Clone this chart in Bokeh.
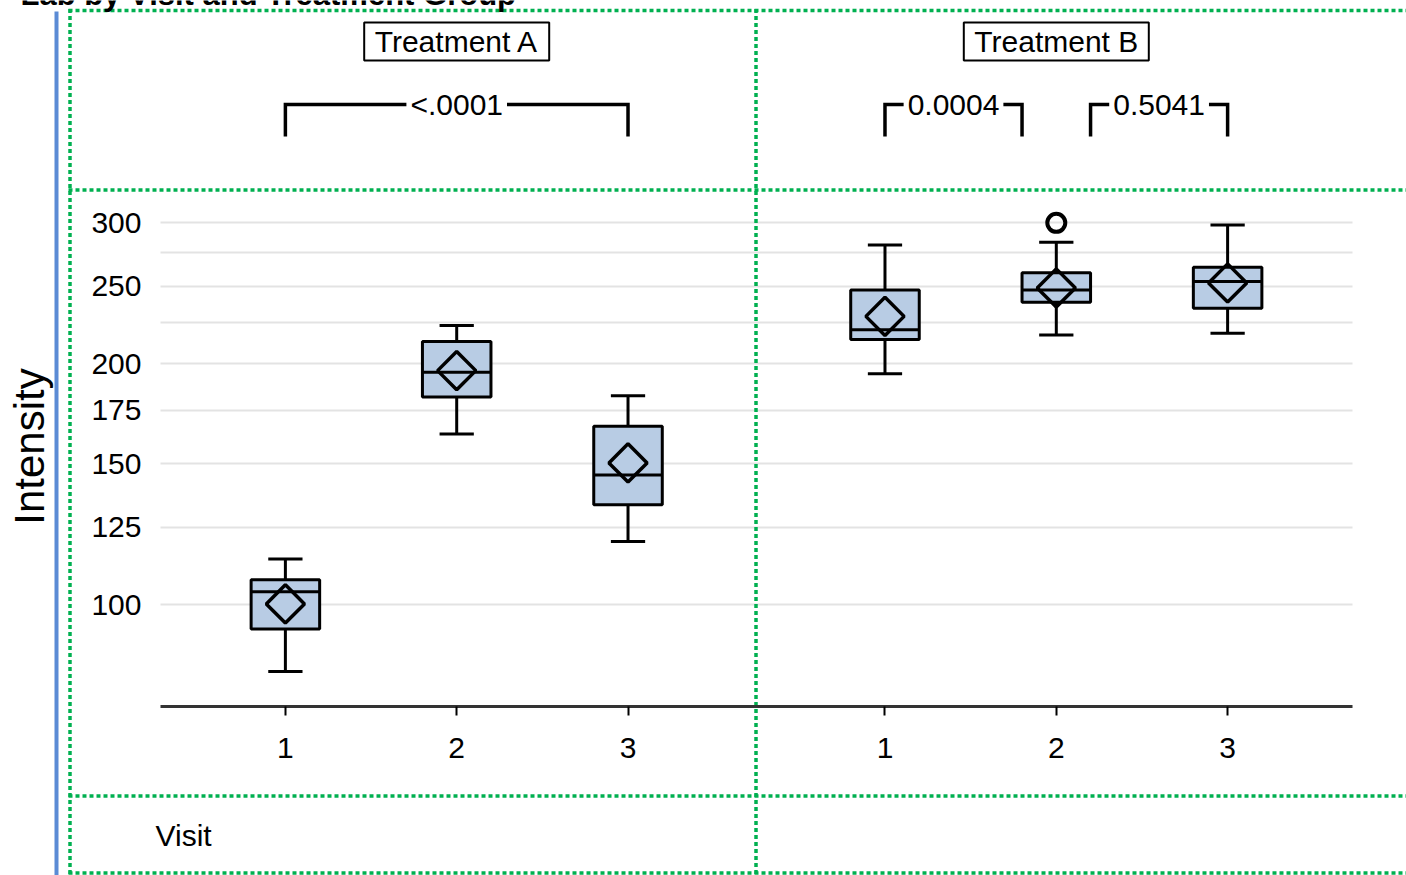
import math
from bokeh.plotting import figure
from bokeh.models import (Range1d, FixedTicker, Label, BasicTickFormatter, ColumnDataSource)
from bokeh.embed import file_html
from bokeh.resources import INLINE

# ---------------- data ----------------
treatments = ["Treatment A", "Treatment B"]
visits = ["1", "2", "3"]
whisker_low  = [[82.5, 163.4, 119.9], [194.3, 217.2, 218.2]]
q1           = [[93.2, 181.7, 133.3], [214.3, 238.6, 234.5]]
median       = [[103.8, 195.1, 145.2], [220.5, 247.2, 253.2]]
mean         = [[100.2, 196.0, 150.3], [229.1, 248.6, 252.2]]
q3           = [[107.4, 213.2, 167.0], [247.2, 259.8, 263.8]]
whisker_high = [[114.0, 223.1, 182.4], [281.4, 283.5, 298.0]]
outliers     = [[[], [], []], [[], [299.8], []]]
p_pairs  = [[("1", "3")], [("1", "2"), ("2", "3")]]
p_labels = [["<.0001"], ["0.0004", "0.5041"]]
y_ticks = [100, 125, 150, 175, 200, 225, 250, 275, 300]
y_tick_labels = ["100", "125", "150", "175", "200", "", "250", "", "300"]
title_text = "Lab by Visit and Treatment Group"
y_label = "Intensity"
x_label = "Visit"

# ---------------- layout ----------------
W, H = 1406, 875
FL, FR, FT, FB = 160, 1352, 191, 706      # data area in canvas pixels
XA0, XA1 = 0.271, 7.229                   # data x extent of the plot area
YA0, YA1 = 74.6, 328.1                    # data y extent of the plot area (log)
GROUP_GAP = 3.5
BOX_W = 0.4
CAP_W = 0.2
FONT = "Liberation Sans"
GREEN = "#00b050"


def px2x(px):
    return XA0 + (px - FL) * (XA1 - XA0) / (FR - FL)


def x2px(x):
    return FL + (x - XA0) * (FR - FL) / (XA1 - XA0)


def py2y(py):
    return math.exp(math.log(YA0) + (FB - py) * (math.log(YA1) - math.log(YA0)) / (FB - FT))


def xpos(g, v):
    return g * GROUP_GAP + visits.index(v) + 1


p = figure(width=W, height=H, x_range=Range1d(px2x(0), px2x(W)),
           y_range=Range1d(py2y(H), py2y(0)),
           y_axis_type="log", output_backend="svg", toolbar_location=None,
           min_border=0, background_fill_color="white",
           border_fill_color="white", outline_line_color=None)

# ---- axes (fixed inside the canvas-wide frame) ----
xt = [xpos(g, v) for g in range(len(treatments)) for v in visits]
xa = p.xaxis[0]
xa.fixed_location = YA0
xa.bounds = (XA0, XA1)
xa.ticker = FixedTicker(ticks=xt)
xa.major_label_overrides = {xpos(g, v): v for g in range(len(treatments)) for v in visits}
xa.axis_line_width = 3
xa.axis_line_color = "#333333"
xa.major_tick_line_width = 2
xa.major_tick_line_color = "black"
xa.major_tick_out = 9
xa.major_tick_in = 0
xa.minor_tick_line_color = None
xa.major_label_standoff = 22
xa.major_label_text_font = FONT
xa.major_label_text_font_size = "30px"
xa.major_label_text_color = "black"
p.xgrid.visible = False

ya = p.yaxis[0]
ya.fixed_location = XA0
ya.bounds = (YA0, YA1)
ya.ticker = FixedTicker(ticks=y_ticks)
ya.formatter = BasicTickFormatter()
ya.major_label_overrides = dict(zip(y_ticks, y_tick_labels))
ya.axis_line_color = None
ya.major_tick_line_color = None
ya.minor_tick_line_color = None
ya.major_tick_out = 0
ya.major_tick_in = 0
ya.major_label_standoff = 19
ya.major_label_text_font = FONT
ya.major_label_text_font_size = "30px"
ya.major_label_text_color = "black"

yg = p.ygrid[0]
yg.grid_line_color = "#e3e3e3"
yg.grid_line_width = 2
yg.minor_grid_line_color = None
try:
    yg.cross_bounds = (XA0, XA1)
except AttributeError:
    yg.visible = False
    p.segment(x0=[XA0] * len(y_ticks), y0=y_ticks, x1=[XA1] * len(y_ticks), y1=y_ticks,
              line_color="#e3e3e3", line_width=2, level="underlay")

# ---------------- cell borders and side bar ----------------
gx0, gy0, gx1, gy1 = [], [], [], []
for xv in [69.5, 755.5]:
    gx0.append(px2x(xv)); gx1.append(px2x(xv)); gy0.append(py2y(8.5)); gy1.append(py2y(H))
for yv in [10, 189.5, 795.5, 872.5]:
    gx0.append(px2x(68)); gx1.append(px2x(W)); gy0.append(py2y(yv)); gy1.append(py2y(yv))
p.segment(x0=gx0, y0=gy0, x1=gx1, y1=gy1, line_color=GREEN, line_width=3.5, line_dash="4 3")
p.segment(x0=[px2x(56)], y0=[py2y(11)], x1=[px2x(56)], y1=[py2y(H)],
          line_color="#5b8bd5", line_width=4)

# ---------------- boxes ----------------
rows = dict(x=[], lo=[], q1=[], med=[], mean=[], q3=[], hi=[])
for g in range(len(treatments)):
    for i, v in enumerate(visits):
        rows["x"].append(xpos(g, v))
        rows["lo"].append(whisker_low[g][i])
        rows["q1"].append(q1[g][i])
        rows["med"].append(median[g][i])
        rows["mean"].append(mean[g][i])
        rows["q3"].append(q3[g][i])
        rows["hi"].append(whisker_high[g][i])
rows["bl"] = [x - BOX_W / 2 for x in rows["x"]]
rows["br"] = [x + BOX_W / 2 for x in rows["x"]]
rows["cl"] = [x - CAP_W / 2 for x in rows["x"]]
rows["cr"] = [x + CAP_W / 2 for x in rows["x"]]
src = ColumnDataSource(rows)

lw = 3
p.segment(x0="x", y0="q3", x1="x", y1="hi", source=src, line_color="black", line_width=lw)
p.segment(x0="x", y0="q1", x1="x", y1="lo", source=src, line_color="black", line_width=lw)
p.segment(x0="cl", y0="hi", x1="cr", y1="hi", source=src, line_color="black", line_width=lw)
p.segment(x0="cl", y0="lo", x1="cr", y1="lo", source=src, line_color="black", line_width=lw)
p.vbar(x="x", width=BOX_W, bottom="q1", top="q3", source=src, fill_color="#b8cce4",
       line_color="black", line_width=lw)
p.segment(x0="bl", y0="med", x1="br", y1="med", source=src, line_color="black", line_width=lw)
p.scatter(x="x", y="mean", source=src, marker="square", angle=math.pi / 4, size=27,
          fill_color=None, line_color="black", line_width=3.5)

ox, oy = [], []
for g in range(len(treatments)):
    for i, v in enumerate(visits):
        for o in outliers[g][i]:
            ox.append(xpos(g, v))
            oy.append(o)
p.scatter(x=ox, y=oy, marker="circle", size=18, fill_color=None, line_color="black", line_width=4)

# ---------------- treatment headers ----------------
hx = [g * GROUP_GAP + 2 for g in range(len(treatments))]
p.rect(x=hx, y=[py2y(41)] * len(hx), width=185, height=38, width_units="screen",
       height_units="screen", fill_color="white", line_color="black", line_width=2)
for g, name in enumerate(treatments):
    p.add_layout(Label(x=hx[g], y=py2y(41), text=name, text_align="center",
                       text_baseline="middle", text_font=FONT, text_font_size="30px",
                       text_color="black"))

# ---------------- p-value brackets ----------------
BR_Y, BR_LEG = 104, 32
bxs, bys = [], []
for g in range(len(treatments)):
    shared = [v for pair in p_pairs[g] for v in pair]
    for (va, vb), lab in zip(p_pairs[g], p_labels[g]):
        x_a = xpos(g, va) + (0.2 if shared.count(va) > 1 else 0)
        x_b = xpos(g, vb) - (0.2 if shared.count(vb) > 1 else 0)
        bxs.append([x_a, x_a, x_b, x_b])
        bys.append([py2y(BR_Y + BR_LEG), py2y(BR_Y), py2y(BR_Y), py2y(BR_Y + BR_LEG)])
        p.add_layout(Label(x=(x_a + x_b) / 2, y=py2y(BR_Y), text=lab, text_align="center",
                           text_baseline="middle", text_font=FONT, text_font_size="30px",
                           text_color="black", background_fill_color="white", padding=4))
p.multi_line(xs=bxs, ys=bys, line_color="black", line_width=3.5, line_join="miter")

# ---------------- axis titles and chart title ----------------
p.add_layout(Label(x=px2x(29), y=py2y(446), text=y_label, angle=math.pi / 2,
                   text_align="center", text_baseline="alphabetic", text_font=FONT,
                   text_font_size="42px", text_color="black"))
p.add_layout(Label(x=px2x(155), y=py2y(835), text=x_label, text_align="left",
                   text_baseline="middle", text_font=FONT, text_font_size="30px",
                   text_color="black"))
p.add_layout(Label(x=px2x(20), y=py2y(-6), text=title_text, text_align="left",
                   text_baseline="alphabetic", text_font=FONT, text_font_size="31px",
                   text_font_style="bold", text_color="black"))

open("out.html", "w").write(file_html(p, INLINE))
